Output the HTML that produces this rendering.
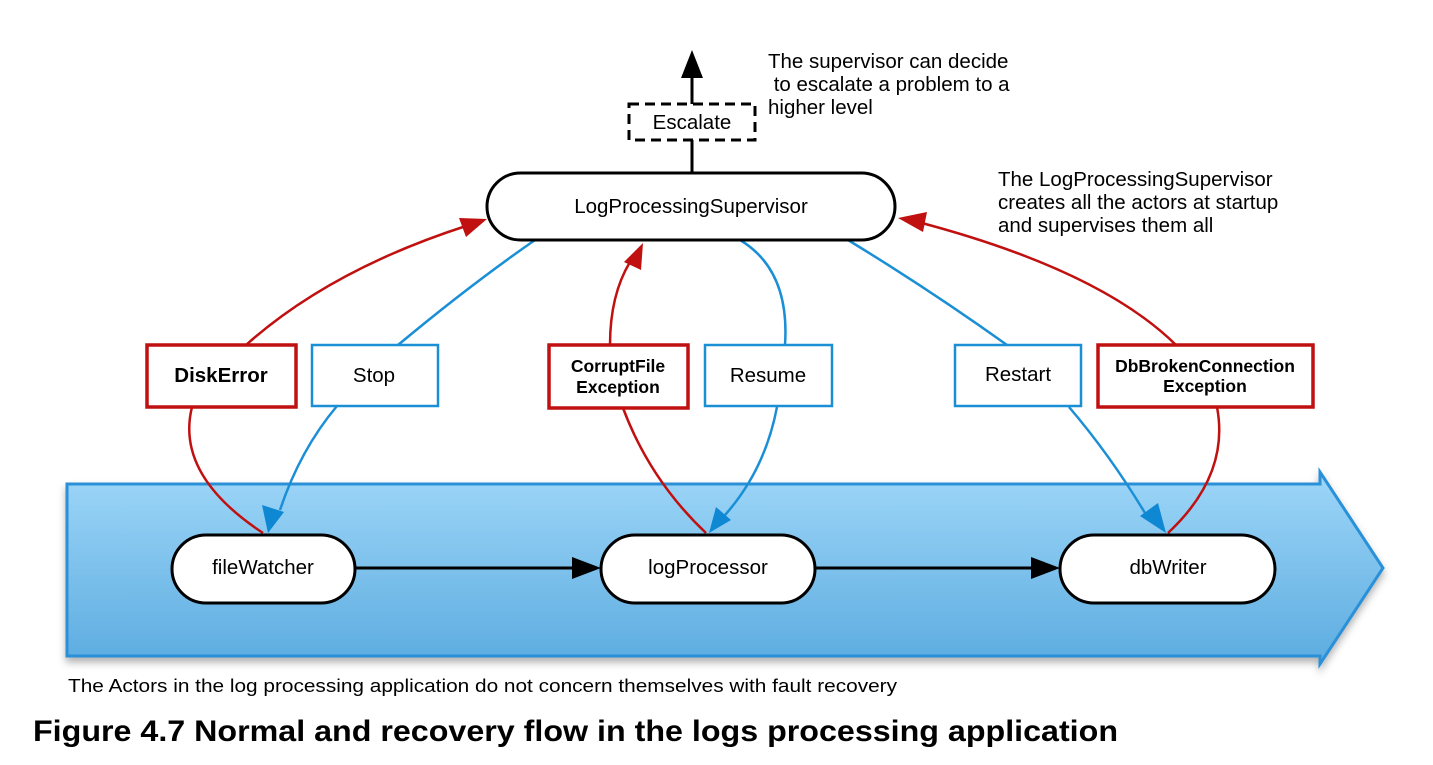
<!DOCTYPE html>
<html><head><meta charset="utf-8"><style>html,body{margin:0;padding:0;background:#fff}svg{display:block}</style></head>
<body>
<svg width="1433" height="765" viewBox="0 0 1433 765" xmlns="http://www.w3.org/2000/svg" font-family="Liberation Sans, sans-serif">
<defs>
<linearGradient id="g" x1="0" y1="0" x2="0" y2="1"><stop offset="0" stop-color="#9ed6f8"/><stop offset="1" stop-color="#5cace0"/></linearGradient>
<filter id="sh" x="-5%" y="-10%" width="110%" height="130%"><feDropShadow dx="0" dy="5" stdDeviation="4" flood-color="#000" flood-opacity="0.3"/></filter>
</defs>
<path d="M67,484 H1320 V472 L1383,568 L1320,664 V656 H67 Z" fill="url(#g)" stroke="#2a90d8" stroke-width="3" filter="url(#sh)"/>
<line x1="692" y1="173" x2="692" y2="76" stroke="#000" stroke-width="3"/>
<path d="M681,78 L692,50 L703,78 Z" fill="#000"/>
<rect x="629" y="104" width="126" height="36" fill="#fff" stroke="#000" stroke-width="3" stroke-dasharray="10,6"/>
<text x="692" y="129" font-size="20.5" text-anchor="middle">Escalate</text>
<text font-size="20.5"><tspan x="768" y="68">The supervisor can decide</tspan><tspan x="768" y="91"> to escalate a problem to a</tspan><tspan x="768" y="114">higher level</tspan></text>
<text font-size="20.5"><tspan x="998" y="186">The LogProcessingSupervisor</tspan><tspan x="998" y="209">creates all the actors at startup</tspan><tspan x="998" y="232">and supervises them all</tspan></text>
<g fill="none" stroke-width="2.5">
<path d="M246,345 Q330,270 466,226" stroke="#c01010"/>
<path d="M610,345 Q610,295 630,262" stroke="#c01010"/>
<path d="M1176,345 Q1100,270 918,222" stroke="#c01010"/>
<path d="M398,345 Q470,285 535,240" stroke="#1a8fd6"/>
<path d="M785,345 Q790,270 740,240" stroke="#1a8fd6"/>
<path d="M1007,345 Q930,290 848,240" stroke="#1a8fd6"/>
<path d="M192,407 Q175,475 263,533" stroke="#c01010"/>
<path d="M1217,407 Q1230,475 1168,533" stroke="#c01010"/>
<path d="M623,408 Q650,480 706,533" stroke="#c01010"/>
<path d="M337,406 Q300,450 280,510" stroke="#1a8fd6"/>
<path d="M777,407 Q765,470 725,515" stroke="#1a8fd6"/>
<path d="M1069,407 Q1110,455 1145,513" stroke="#1a8fd6"/>
</g>
<path d="M487,219 L459,218 L466,237 Z" fill="#c01010"/>
<path d="M643,243 L624,262 L641,270 Z" fill="#c01010"/>
<path d="M898,218 L927,212 L923,232 Z" fill="#c01010"/>
<path d="M268,533 L262,505 L284,512 Z" fill="#0f88d4"/>
<path d="M709,533 L716,507 L731,520 Z" fill="#0f88d4"/>
<path d="M1166,533 L1140,516 L1158,503 Z" fill="#0f88d4"/>
<rect x="487" y="173" width="408" height="67" rx="33.5" fill="#fff" stroke="#000" stroke-width="3"/>
<text x="691" y="213" font-size="20.5" text-anchor="middle">LogProcessingSupervisor</text>
<g fill="#fff">
<rect x="147" y="345" width="149" height="62" stroke="#c01010" stroke-width="3.5"/>
<rect x="312" y="345" width="126" height="61" stroke="#1a8fd6" stroke-width="2.5"/>
<rect x="549" y="345" width="139" height="63" stroke="#c01010" stroke-width="3.5"/>
<rect x="705" y="345" width="127" height="61" stroke="#1a8fd6" stroke-width="2.5"/>
<rect x="955" y="345" width="126" height="61" stroke="#1a8fd6" stroke-width="2.5"/>
<rect x="1098" y="345" width="215" height="62" stroke="#c01010" stroke-width="3.5"/>
</g>
<g font-size="20.5" text-anchor="middle">
<text x="221" y="382" font-weight="bold">DiskError</text>
<text x="374" y="382">Stop</text>
<text x="618" y="372" font-size="17.5" font-weight="bold">CorruptFile</text>
<text x="618" y="393" font-size="17.5" font-weight="bold">Exception</text>
<text x="768" y="382">Resume</text>
<text x="1018" y="381">Restart</text>
<text x="1205" y="372" font-size="17.5" font-weight="bold">DbBrokenConnection</text>
<text x="1205" y="392" font-size="17.5" font-weight="bold">Exception</text>
</g>
<line x1="355" y1="568" x2="575" y2="568" stroke="#000" stroke-width="3"/>
<path d="M572,557 L601,568 L572,579 Z" fill="#000"/>
<line x1="815" y1="568" x2="1033" y2="568" stroke="#000" stroke-width="3"/>
<path d="M1031,557 L1060,568 L1031,579 Z" fill="#000"/>
<g fill="#fff" stroke="#000" stroke-width="3">
<rect x="172" y="535" width="183" height="68" rx="34"/>
<rect x="601" y="535" width="214" height="68" rx="34"/>
<rect x="1060" y="535" width="215" height="68" rx="34"/>
</g>
<g font-size="20.5" text-anchor="middle">
<text x="263" y="574">fileWatcher</text>
<text x="708" y="574">logProcessor</text>
<text x="1168" y="574">dbWriter</text>
</g>
<text x="68" y="692" font-size="18" textLength="829" lengthAdjust="spacingAndGlyphs">The Actors in the log processing application do not concern themselves with fault recovery</text>
<text x="33" y="741" font-size="30" font-weight="bold" textLength="1085" lengthAdjust="spacingAndGlyphs">Figure 4.7 Normal and recovery flow in the logs processing application</text>
</svg>
</body></html>
